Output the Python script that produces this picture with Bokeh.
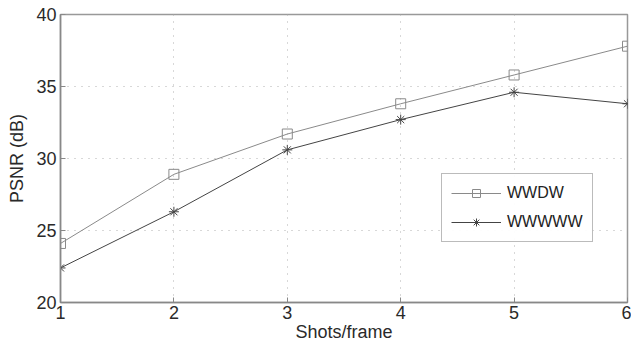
from bokeh.plotting import figure
from bokeh.models import Range1d, FixedTicker, Legend, LegendItem
from bokeh.embed import file_html
from bokeh.resources import INLINE

shots = [1, 2, 3, 4, 5, 6]
wwdw = [24.1, 28.9, 31.7, 33.8, 35.8, 37.8]
wwwww = [22.4, 26.3, 30.6, 32.7, 34.6, 33.8]
x_ticks = [1, 2, 3, 4, 5, 6]
y_ticks = [20, 25, 30, 35, 40]

p = figure(width=631, height=348, output_backend="svg", toolbar_location=None,
           x_range=Range1d(1, 6), y_range=Range1d(20, 40),
           min_border_left=60, min_border_right=4, min_border_top=14, min_border_bottom=46)
p.background_fill_color = "white"
p.border_fill_color = "white"
p.outline_line_color = "#999999"
p.outline_line_width = 1.5

for ax in (p.xaxis[0], p.yaxis[0]):
    ax.axis_line_color = "#888888"
    ax.axis_line_width = 1.5
    ax.major_tick_in = 5
    ax.major_tick_out = 0
    ax.minor_tick_line_color = None
    ax.major_tick_line_color = "#888888"
    ax.major_label_text_font = "Liberation Sans"
    ax.major_label_text_font_size = "18px"
    ax.major_label_text_color = "#2a2a2a"
    ax.axis_label_text_font = "Liberation Sans"
    ax.axis_label_text_font_size = "18px"
    ax.axis_label_text_font_style = "normal"
    ax.axis_label_text_color = "#2a2a2a"

p.xaxis.ticker = FixedTicker(ticks=x_ticks)
p.yaxis.ticker = FixedTicker(ticks=y_ticks)
p.xaxis.axis_label = "Shots/frame"
p.yaxis.axis_label = "PSNR (dB)"
p.xaxis.major_label_standoff = 3
p.yaxis.major_label_standoff = 4
p.xaxis.axis_label_standoff = 0
p.yaxis.axis_label_standoff = 6

for g in (p.xgrid[0], p.ygrid[0]):
    g.grid_line_color = "#b0b0b0"
    g.grid_line_dash = "1 6"
    g.grid_line_width = 1

l1 = p.line(shots, wwdw, line_color="#8a8a8a", line_width=1)
m1 = p.scatter(shots, wwdw, marker="square", size=10, fill_color=None,
               line_color="#8a8a8a", line_width=1)
l2 = p.line(shots, wwwww, line_color="#444444", line_width=1)
m2 = p.scatter(shots, wwwww, marker="asterisk", size=10,
               line_color="#444444", line_width=1)

legend = Legend(items=[LegendItem(label="WWDW", renderers=[l1, m1]),
                       LegendItem(label="WWWWW", renderers=[l2, m2])],
                location=(381, 60))
legend.label_text_font = "Liberation Sans"
legend.label_text_font_size = "16px"
legend.label_text_color = "#222222"
legend.border_line_color = "#777777"
legend.border_line_width = 1.5
legend.glyph_width = 50
legend.glyph_height = 20
legend.label_height = 20
legend.spacing = 9
legend.padding = 9
legend.margin = 0
legend.label_standoff = 6
p.add_layout(legend)

open("out.html", "w").write(file_html(p, INLINE))
